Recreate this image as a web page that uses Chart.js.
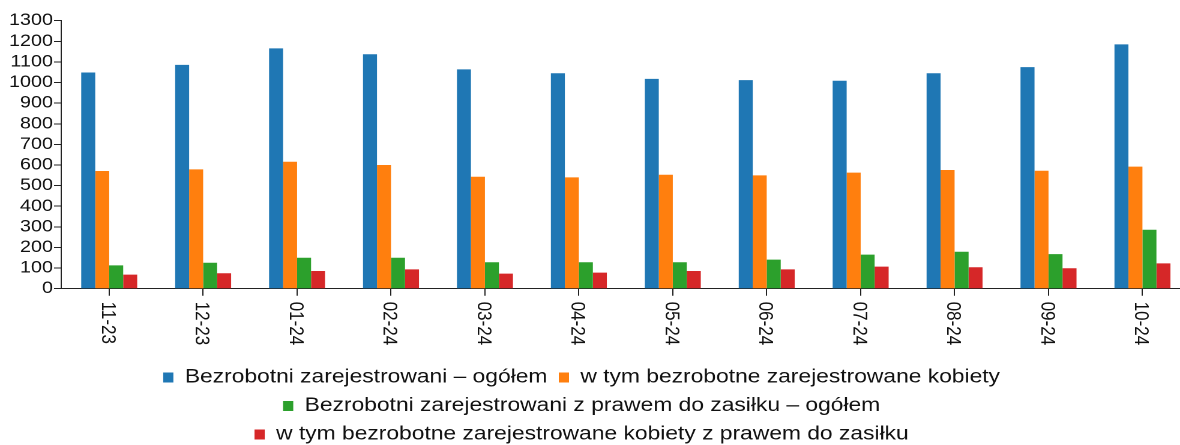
<!DOCTYPE html>
<html><head><meta charset="utf-8">
<script src="https://cdn.jsdelivr.net/npm/chart.js@4/dist/chart.umd.min.js"></script>
<style>
html,body{margin:0;padding:0;background:#fff;overflow:hidden;width:1180px;height:445px;}
#c{position:absolute;left:0;top:0;transform-origin:0 0;transform:scaleX(1.20041);}
</style></head><body>
<canvas id="c" width="983" height="454"></canvas>
<script>
const categories = ['11-23','12-23','01-24','02-24','03-24','04-24','05-24','06-24','07-24','08-24','09-24','10-24'];
const seriesNames = [
  'Bezrobotni zarejestrowani – ogółem',
  'w tym bezrobotne zarejestrowane kobiety',
  'Bezrobotni zarejestrowani z prawem do zasiłku – ogółem',
  'w tym bezrobotne zarejestrowane kobiety z prawem do zasiłku'
];
const totalUnemployed = [1049,1086,1166,1137,1064,1045,1018,1012,1009,1045,1075,1185];
const womenUnemployed = [571,579,616,600,543,540,553,550,563,576,572,592];
const benefitTotal = [113,126,150,150,128,128,128,141,165,179,168,286];
const benefitWomen = [68,75,86,94,73,78,86,94,107,104,99,123];
const yMin = 0, yMax = 1300, yStep = 100;

const colors = ['#1f77b4','#ff7f0e','#2ca02c','#d62728'];
const FONT = '"Liberation Sans", Arial, Helvetica, sans-serif';
const seriesValues = [totalUnemployed, womenUnemployed, benefitTotal, benefitWomen];

const datasets = seriesValues.map((vals, k) => ({
  label: seriesNames[k],
  data: vals.map((v, i) => ({x: i, y: v})),
  backgroundColor: colors[k],
  borderWidth: 0
}));

const xLabelsPlugin = {
  id: 'xLabels',
  afterDraw(chart) {
    const {ctx, chartArea} = chart;
    const xs = chart.scales.x;
    ctx.save();
    ctx.font = '17px ' + FONT;
    ctx.fillStyle = '#111';
    ctx.textAlign = 'left';
    ctx.textBaseline = 'middle';
    categories.forEach((lab, i) => {
      const px = xs.getPixelForValue(i);
      ctx.save();
      ctx.translate(px - 1.5, chartArea.bottom + 13);
      ctx.rotate(Math.PI / 2);
      ctx.fillText(lab, 0, 0);
      ctx.restore();
    });
    ctx.restore();
  }
};

const legendShift = {
  id: 'legendShift',
  afterLayout(chart) {
    if (chart.legend) { chart.legend.left -= 7; chart.legend.right -= 7; }
  }
};

new Chart(document.getElementById('c'), {
  type: 'bar',
  data: {datasets},
  options: {
    responsive: false,
    animation: false,
    devicePixelRatio: 2,
    layout: {padding: {top: 20.7, left: 0, right: 0, bottom: 0}},
    datasets: {bar: {barPercentage: 1, categoryPercentage: 0.596}},
    plugins: {
      legend: {
        position: 'bottom',
        labels: {boxWidth: 8.5, boxHeight: 10, padding: 9.5, color: '#111', font: {family: FONT, size: 19}}
      },
      tooltip: {enabled: false}
    },
    scales: {
      x: {
        type: 'linear', min: -0.5131, max: 11.40, offset: false,
        grid: {display: true, offset: false, drawOnChartArea: false, drawTicks: true, tickLength: 7, tickColor: '#222', tickWidth: 1},
        border: {display: true, color: '#222', width: 1},
        ticks: {display: false, includeBounds: false},
        afterBuildTicks: s => { s.ticks = categories.map((_, i) => ({value: i})); },
        afterFit: s => { s.height = 69.8; }
      },
      y: {
        type: 'linear', min: yMin, max: yMax,
        grid: {display: true, drawOnChartArea: false, drawTicks: true, tickLength: 5.83, tickColor: '#222', tickWidth: 1},
        border: {display: true, color: '#222', width: 1},
        ticks: {stepSize: yStep, autoSkip: false, padding: 0.83, color: '#111', font: {family: FONT, size: 16.5},
                callback: v => String(v)},
        afterFit: s => { s.width = 50.82; }
      }
    }
  },
  plugins: [xLabelsPlugin, legendShift]
});
</script>
</body></html>
